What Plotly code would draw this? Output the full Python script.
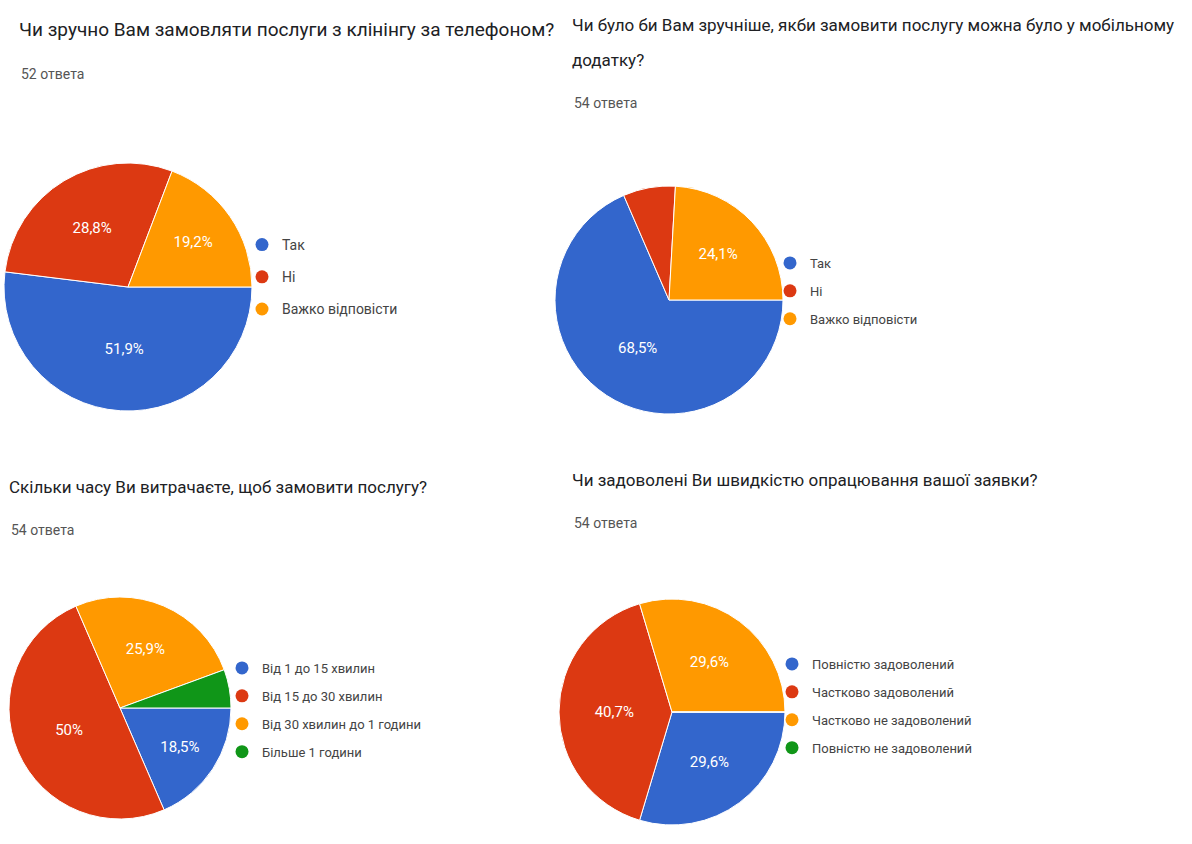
import plotly.graph_objects as go

W, H = 1192, 844

# ---------------- data ----------------
q1_title = "Чи зручно Вам замовляти послуги з клінінгу за телефоном?"
q1_count = "52 ответа"
q1_labels = ["Так", "Ні", "Важко відповісти"]
q1_values = [51.9, 28.8, 19.2]

q2_title_1 = "Чи було би Вам зручніше, якби замовити послугу можна було у мобільному"
q2_title_2 = "додатку?"
q2_count = "54 ответа"
q2_labels = ["Так", "Ні", "Важко відповісти"]
q2_values = [68.5, 7.4, 24.1]

q3_title = "Скільки часу Ви витрачаєте, щоб замовити послугу?"
q3_count = "54 ответа"
q3_labels = ["Від 1 до 15 хвилин", "Від 15 до 30 хвилин", "Від 30 хвилин до 1 години", "Більше 1 години"]
q3_values = [18.5, 50.0, 25.9, 5.6]

q4_title = "Чи задоволені Ви швидкістю опрацювання вашої заявки?"
q4_count = "54 ответа"
q4_labels = ["Повністю задоволений", "Частково задоволений", "Частково не задоволений", "Повністю не задоволений"]
q4_values = [29.6, 40.7, 29.6, 0.0]

COLORS = ["#3366cc", "#dc3912", "#ff9900", "#109618"]
FONT = "Roboto, Arial, sans-serif"


def px_x(x):
    return x / W


def px_y(y):
    return 1 - y / H


def pct_text(v):
    if v < 8:
        return ""
    return f"{v:g}".replace(".", ",") + "%"


fig = go.Figure()

charts = [
    dict(labels=q1_labels, values=q1_values, cx=128, cy=287, r=124, leg="legend", lx=242, ly=229, gap=11, fs=14),
    dict(labels=q2_labels, values=q2_values, cx=669, cy=300, r=114, leg="legend2", lx=770, ly=248, gap=8, fs=13),
    dict(labels=q3_labels, values=q3_values, cx=120, cy=708, r=111, leg="legend3", lx=222, ly=653, gap=8, fs=13),
    dict(labels=q4_labels, values=q4_values, cx=672, cy=712, r=113, leg="legend4", lx=772, ly=649, gap=8, fs=13),
]

for k, c in enumerate(charts):
    fig.add_trace(go.Pie(
        labels=c["labels"],
        values=c["values"],
        text=[pct_text(v) for v in c["values"]],
        textinfo="text",
        textposition="inside",
        insidetextorientation="horizontal",
        textfont=dict(family=FONT, size=15, color="white"),
        marker=dict(colors=COLORS[:len(c["labels"])], line=dict(color="white", width=1)),
        sort=False,
        direction="clockwise",
        rotation=90,
        showlegend=False,
        hoverinfo="label+percent",
        domain=dict(
            x=[px_x(c["cx"] - c["r"]), px_x(c["cx"] + c["r"])],
            y=[px_y(c["cy"] + c["r"]), px_y(c["cy"] - c["r"])],
        ),
    ))
    for i, lab in enumerate(c["labels"]):
        fig.add_trace(go.Scatter(
            x=[None], y=[None], mode="markers",
            marker=dict(size=13, color=COLORS[i], symbol="circle"),
            name=lab, legend=c["leg"], legendgroup=f"g{k}_{i}",
            showlegend=True, hoverinfo="skip",
        ))

legend_layout = {}
for c in charts:
    legend_layout[c["leg"]] = dict(
        x=px_x(c["lx"]), y=px_y(c["ly"]), xanchor="left", yanchor="top",
        font=dict(family=FONT, size=c["fs"], color="#444444"),
        tracegroupgap=c["gap"], bgcolor="rgba(0,0,0,0)", borderwidth=0,
        itemclick=False, itemdoubleclick=False,
    )

annotations = []


def add_text(text, x, y, size, color):
    annotations.append(dict(
        text=text, x=px_x(x), y=px_y(y), xref="paper", yref="paper",
        xanchor="left", yanchor="middle", showarrow=False,
        font=dict(family=FONT, size=size, color=color),
    ))


TITLE_C = "#202124"
SUB_C = "#555555"
add_text(q1_title, 17, 30, 19, TITLE_C)
add_text(q1_count, 19, 74, 14, SUB_C)
add_text(q2_title_1, 570, 25, 17, TITLE_C)
add_text(q2_title_2, 570, 60, 17, TITLE_C)
add_text(q2_count, 572, 103, 14, SUB_C)
add_text(q3_title, 7, 487, 17, TITLE_C)
add_text(q3_count, 9, 530, 14, SUB_C)
add_text(q4_title, 570, 480, 17, TITLE_C)
add_text(q4_count, 572, 523, 14, SUB_C)

fig.update_layout(
    width=W, height=H,
    margin=dict(l=0, r=0, t=0, b=0),
    paper_bgcolor="white", plot_bgcolor="white",
    xaxis=dict(visible=False), yaxis=dict(visible=False),
    annotations=annotations,
    **legend_layout,
)

fig.write_html("out.html")
